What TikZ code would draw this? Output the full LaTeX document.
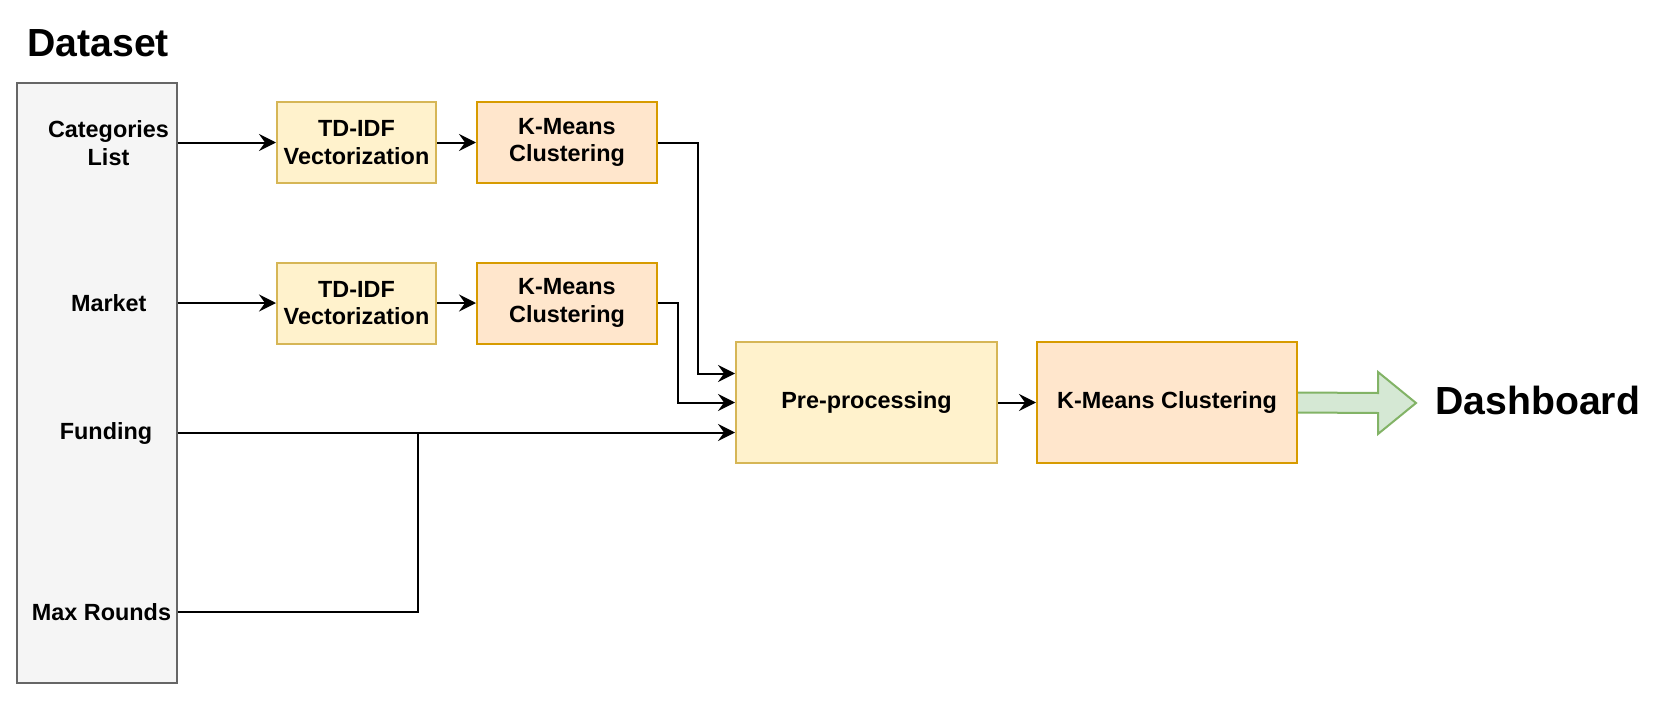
\documentclass[tikz,border=0pt]{standalone}
\usepackage{fontspec}
\setmainfont{Liberation Sans}
\usetikzlibrary{arrows.meta,calc}
\definecolor{dsfill}{HTML}{F5F5F5}
\definecolor{dsline}{HTML}{666666}
\definecolor{yfill}{HTML}{FFF2CC}
\definecolor{yline}{HTML}{D6B656}
\definecolor{ofill}{HTML}{FFE6CC}
\definecolor{oline}{HTML}{D79B00}
\definecolor{gfill}{HTML}{D5E8D4}
\definecolor{gline}{HTML}{82B366}
\tikzset{
  txt/.style={font=\fontsize{11.7}{13.7}\selectfont\bfseries, align=center, inner sep=0pt},
  ybox/.style={txt, draw=yline, fill=yfill, line width=1pt},
  obox/.style={txt, draw=oline, fill=ofill, line width=1pt},
  conn/.style={line width=1pt, -{Stealth[length=8.5pt,width=8.5pt,inset=3pt]}},
  plain/.style={line width=1pt},
  big/.style={font=\fontsize{19.6}{23}\selectfont\bfseries, inner sep=0pt}
}
\begin{document}
\begin{tikzpicture}[x=0.5pt,y=-0.5pt]
\useasboundingbox (0,0) rectangle (1656,712);
% dataset column
\node[big, anchor=base west] (title) at (27,56) {Dataset};
\node[draw=dsline, fill=dsfill, line width=1pt, minimum width=80pt, minimum height=300pt, inner sep=0pt] (ds) at (96.5,382.5) {};
\node[txt] (cat) at (108.5,143) {Categories\\List};
\node[txt] (mkt) at (108.8,303) {Market};
\node[txt] (fund) at (106,433) {Funding};
\node[txt] (mr) at (101.5,612) {Max Rounds};
% boxes
\node[ybox, minimum width=79.5pt, minimum height=40.5pt] (td1) at (356.5,142.5) {TD-IDF\\Vectorization};
\node[obox, minimum width=90pt, minimum height=40.5pt] (km1) at (567,142.5) {K-Means\\Clustering};
\node[ybox, minimum width=79.5pt, minimum height=40.5pt] (td2) at (356.5,303) {TD-IDF\\Vectorization};
\node[obox, minimum width=90pt, minimum height=40.5pt] (km2) at (567,303) {K-Means\\Clustering};
\node[ybox, minimum width=130.5pt, minimum height=60.5pt] (pre) at (866.5,402.5) {Pre-processing};
\node[obox, minimum width=130pt, minimum height=60.5pt] (kmb) at (1167,402.5) {K-Means Clustering};
\node[big, anchor=base west] (dash) at (1435,414) {Dashboard};
% connectors
\draw[conn] (td1.west -| ds.east) -- (td1.west);
\draw[conn] (td1) -- (km1);
\draw[conn] (td2.west -| ds.east) -- (td2.west);
\draw[conn] (td2) -- (km2);
\coordinate (p1) at ($(pre.west)+(0,-29)$);
\coordinate (p2) at (pre.west);
\coordinate (p3) at ($(pre.west)+(0,30)$);
\draw[conn] (km1.east) -- ($(km1.east)+(40,0)$) |- (p1);
\draw[conn] (km2.east) -- ($(km2.east)+(20,0)$) |- (p2);
\draw[conn] (p3 -| ds.east) -- (p3);
\coordinate (j) at (418,433);
\draw[plain] (mr -| ds.east) -| (j);
\draw[conn] (pre) -- (kmb);
% output arrow
\draw[draw=gline, fill=gfill, line width=1pt] ($(kmb.east)+(0,-10)$) -- (1378,393) -- (1378,372) -- (1416,403) -- (1378,434) -- (1378,413) -- ($(kmb.east)+(0,10)$);
\end{tikzpicture}
\end{document}
